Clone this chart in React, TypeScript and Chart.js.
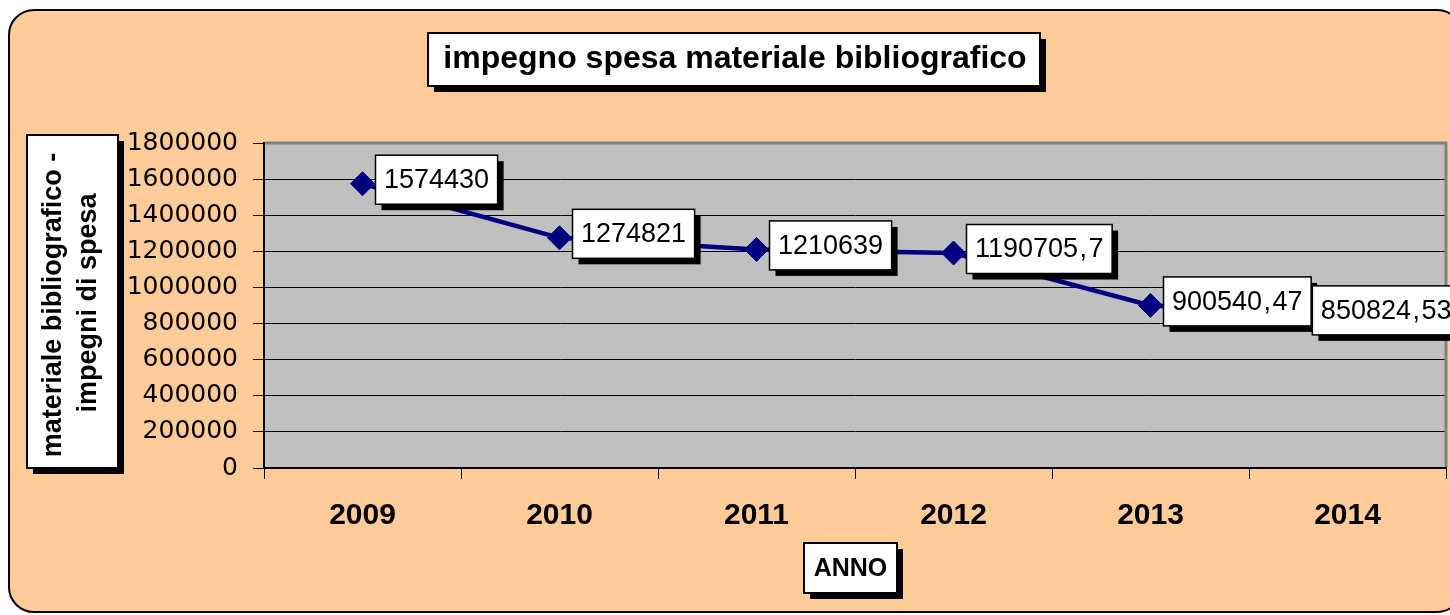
import React, { useEffect, useRef } from "react";
import { Chart, registerables } from "chart.js";

Chart.register(...registerables);

const years = ["2009", "2010", "2011", "2012", "2013", "2014"];
const impegni = [1574430, 1274821, 1210639, 1190705.7, 900540.47, 850824.53];
const yTicks = { min: 0, max: 1800000, step: 200000 };
const titleText = "impegno spesa materiale bibliografico";
const yTitleLines = ["materiale bibliografico -", "impegni di spesa"];
const xTitleText = "ANNO";

const W = 1450;
const H = 615;

function roundRectPath(ctx: CanvasRenderingContext2D, x: number, y: number, w: number, h: number, r: number) {
  ctx.beginPath();
  ctx.moveTo(x + r, y);
  ctx.lineTo(x + w - r, y);
  ctx.arcTo(x + w, y, x + w, y + r, r);
  ctx.lineTo(x + w, y + h - r);
  ctx.arcTo(x + w, y + h, x + w - r, y + h, r);
  ctx.lineTo(x + r, y + h);
  ctx.arcTo(x, y + h, x, y + h - r, r);
  ctx.lineTo(x, y + r);
  ctx.arcTo(x, y, x + r, y, r);
  ctx.closePath();
}

function shadowBox(ctx: CanvasRenderingContext2D, x: number, y: number, w: number, h: number, lw: number) {
  ctx.fillStyle = "#000";
  ctx.fillRect(x + 6, y + 6, w, h);
  ctx.fillStyle = "#fff";
  ctx.fillRect(x, y, w, h);
  ctx.strokeStyle = "#000";
  ctx.lineWidth = lw;
  ctx.strokeRect(x, y, w, h);
}

const decor = {
  id: "decor",
  beforeDraw(chart: any) {
    const { ctx, chartArea: a } = chart;
    ctx.save();
    ctx.fillStyle = "#fff";
    ctx.fillRect(0, 0, chart.width, chart.height);
    roundRectPath(ctx, 9, 10, 1462 - 9, 612 - 10, 25);
    ctx.fillStyle = "#FFCC99";
    ctx.fill();
    ctx.strokeStyle = "#000";
    ctx.lineWidth = 2;
    ctx.stroke();
    ctx.fillStyle = "#C0C0C0";
    ctx.fillRect(a.left, a.top, a.right - a.left, a.bottom - a.top);
    ctx.restore();
  },
  beforeDatasetsDraw(chart: any) {
    const { ctx, chartArea: a } = chart;
    ctx.save();
    ctx.strokeStyle = "#808080";
    ctx.lineWidth = 3;
    ctx.beginPath();
    ctx.moveTo(a.left + 1, a.top);
    ctx.lineTo(a.right, a.top);
    ctx.lineTo(a.right, a.bottom - 1);
    ctx.stroke();
    ctx.restore();
  },
  afterDatasetsDraw(chart: any) {
    const { ctx } = chart;
    const meta = chart.getDatasetMeta(0);
    ctx.save();
    ctx.font = '27px "Liberation Sans"';
    ctx.textBaseline = "middle";
    ctx.textAlign = "left";
    meta.data.forEach((pt: any, i: number) => {
      const txt = String(impegni[i]).replace(".", ",");
      const parts = txt.split(",");
      const intW = ctx.measureText(parts[0]).width;
      const commaW = ctx.measureText(",").width;
      const decW = parts.length > 1 ? ctx.measureText(parts[1]).width : 0;
      const extra = parts.length > 1 ? 3 : 0;
      const tw = parts.length > 1 ? intW + commaW + decW + extra : intW;
      const w = tw + 17;
      const h = 49;
      let left = pt.x + 13;
      if (left + w > 1460) left = 1460 - w;
      const cy = pt.y - 4;
      shadowBox(ctx, left, cy - h / 2, w, h, 1.5);
      ctx.fillStyle = "#000";
      const tx = left + 8.5;
      ctx.fillText(parts[0], tx, cy + 1);
      if (parts.length > 1) {
        ctx.fillText(",", tx + intW + 1.5, cy + 1);
        ctx.fillText(parts[1], tx + intW + commaW + extra, cy + 1);
      }
    });
    ctx.restore();
  },
  afterDraw(chart: any) {
    const { ctx } = chart;
    ctx.save();
    // title
    shadowBox(ctx, 428, 33, 612, 53, 2);
    ctx.fillStyle = "#000";
    ctx.font = 'bold 32px "Liberation Sans"';
    ctx.textAlign = "center";
    ctx.textBaseline = "middle";
    ctx.fillText(titleText, 735, 59);
    // y title
    shadowBox(ctx, 27, 135, 91, 333, 2);
    ctx.save();
    ctx.translate(72, 305);
    ctx.rotate(-Math.PI / 2);
    ctx.fillStyle = "#000";
    ctx.font = 'bold 27px "Liberation Sans"';
    ctx.textAlign = "center";
    ctx.textBaseline = "middle";
    ctx.fillText(yTitleLines[0], 0, -18);
    ctx.fillText(yTitleLines[1], 2, 17);
    ctx.restore();
    // x title
    shadowBox(ctx, 804, 543, 93, 50, 2);
    ctx.fillStyle = "#000";
    ctx.font = 'bold 25px "Liberation Sans"';
    ctx.textAlign = "center";
    ctx.textBaseline = "middle";
    ctx.fillText(xTitleText, 850.5, 569);
    ctx.restore();
  },
};

export default function App() {
  const ref = useRef<HTMLCanvasElement | null>(null);
  useEffect(() => {
    if (!ref.current) return;
    const chart = new Chart(ref.current, {
      type: "line",
      data: {
        labels: years,
        datasets: [
          {
            data: impegni,
            borderColor: "#000080",
            backgroundColor: "#000080",
            borderWidth: 4.5,
            pointStyle: "rectRot",
            pointRadius: 12,
            pointHoverRadius: 12,
            pointBackgroundColor: "#000080",
            pointBorderColor: "#000080",
            pointBorderWidth: 1,
            tension: 0,
            fill: false,
          },
        ],
      },
      options: {
        animation: false,
        responsive: false,
        maintainAspectRatio: false,
        layout: { autoPadding: false, padding: { left: 0, top: 143, right: 4, bottom: 0 } },
        plugins: {
          legend: { display: false },
          tooltip: { enabled: false },
          title: { display: false },
        },
        scales: {
          x: {
            type: "category",
            offset: true,
            grid: {
              offset: true,
              drawOnChartArea: false,
              drawTicks: true,
              tickLength: 11,
              color: "#000",
              lineWidth: 1,
            },
            border: { color: "#000", width: 2 },
            ticks: {
              color: "#000",
              font: { family: "Liberation Sans", size: 30, weight: "bold" },
              padding: 19,
              maxRotation: 0,
              autoSkip: false,
            },
            afterFit(s: any) {
              s.height = H - 468;
              s.paddingLeft = 0;
              s.paddingRight = 0;
            },
          },
          y: {
            min: yTicks.min,
            max: yTicks.max,
            ticks: {
              stepSize: yTicks.step,
              color: "#000",
              font: { family: "DejaVu Sans", size: 25 },
              padding: 15,
              callback: (v: any) => String(v),
            },
            grid: { color: "#000", lineWidth: 1, tickLength: 11 },
            border: { color: "#000", width: 2 },
            afterFit(s: any) {
              s.width = 264;
              s.paddingTop = 0;
              s.paddingBottom = 0;
            },
          },
        },
      },
      plugins: [decor],
    } as any);
    return () => chart.destroy();
  }, []);
  return (
    <div style={{ position: "fixed", left: 0, top: 0, width: W, height: H, overflow: "hidden" }}>
      <canvas ref={ref} width={W} height={H} style={{ display: "block", width: W, height: H }} />
    </div>
  );
}
